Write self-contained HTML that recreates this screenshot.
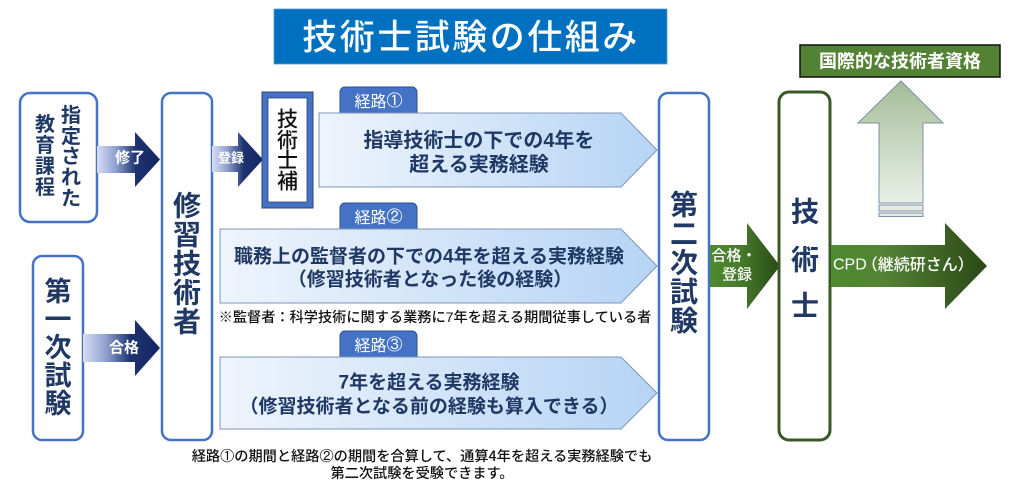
<!DOCTYPE html>
<html><head><meta charset="utf-8">
<style>
html,body{margin:0;padding:0;background:#fff;}
svg{display:block;}
text{font-family:"Liberation Sans","Noto Sans CJK JP",sans-serif;}
.cj{font-family:"Noto Sans CJK JP","Liberation Sans",sans-serif;}
.ci{font-family:"IPAGothic","WenQuanYi Zen Hei","Noto Sans CJK JP",sans-serif;}
.v{font-weight:bold;fill:#1f3864;text-anchor:middle;dominant-baseline:central;}
.r{font-weight:bold;fill:#1f3864;text-anchor:middle;dominant-baseline:central;}
.w{fill:#fff;text-anchor:middle;dominant-baseline:central;}
.n{fill:#111;text-anchor:middle;dominant-baseline:central;}
</style></head>
<body>
<svg width="1024" height="498" viewBox="0 0 1024 498" xmlns="http://www.w3.org/2000/svg">
<defs>
<linearGradient id="ba" x1="0" y1="0" x2="1" y2="0">
<stop offset="0" stop-color="#d6def3"/><stop offset="0.3" stop-color="#8fa0d0"/><stop offset="0.62" stop-color="#1d336f"/><stop offset="1" stop-color="#122563"/>
</linearGradient>
<linearGradient id="ga" x1="0" y1="0" x2="1" y2="0">
<stop offset="0" stop-color="#4f8a30"/><stop offset="0.45" stop-color="#467a2a"/><stop offset="1" stop-color="#2b4a17"/>
</linearGradient>
<linearGradient id="gc" x1="0" y1="0" x2="1" y2="0">
<stop offset="0" stop-color="#4e8a2f"/><stop offset="0.35" stop-color="#548235"/><stop offset="1" stop-color="#2a4816"/>
</linearGradient>
<linearGradient id="pg" x1="0" y1="0" x2="1" y2="0">
<stop offset="0" stop-color="#eef4fc"/><stop offset="1" stop-color="#b6d4f5"/>
</linearGradient>
<linearGradient id="ug" x1="0" y1="0" x2="0" y2="1">
<stop offset="0" stop-color="#a3bd97"/><stop offset="1" stop-color="#eaf0e8"/>
</linearGradient>
</defs>

<!-- Title -->
<rect x="274" y="9" width="393" height="55" fill="#0070c0" stroke="#5b9bd5" stroke-width="0.8"/>
<text x="471" y="38" class="w" font-size="35" font-weight="500" letter-spacing="2.5">技術士試験の仕組み</text>

<!-- 指定された教育課程 box -->
<rect x="20" y="93" width="77" height="129" rx="10" fill="#fff" stroke="#4472c4" stroke-width="2.5"/>
<g class="v" font-size="20">
<text x="71" y="116">指</text><text x="71" y="137">定</text><text x="71" y="157">さ</text><text x="71" y="178">れ</text><text x="71" y="199">た</text>
<text x="45" y="125">教</text><text x="45" y="146">育</text><text x="45" y="167">課</text><text x="45" y="188">程</text>
</g>

<!-- 第一次試験 box -->
<rect x="33" y="256" width="50" height="184" rx="9" fill="#fff" stroke="#4472c4" stroke-width="2.5"/>
<g class="v" font-size="27">
<text x="58" y="292">第</text><text x="58" y="320">一</text><text x="58" y="348">次</text><text x="58" y="376">試</text><text x="58" y="404">験</text>
</g>

<!-- 修了 arrow -->
<path d="M97,146 L135,146 L135,132 L160,159.5 L135,187 L135,173 L97,173 Z" fill="url(#ba)"/>
<text x="130" y="158" class="w" font-size="15" font-weight="bold">修了</text>

<!-- 合格 arrow -->
<path d="M83,334 L135,334 L135,320 L160,348 L135,376 L135,362 L83,362 Z" fill="url(#ba)"/>
<text x="124" y="348" class="w" font-size="15" font-weight="bold">合格</text>

<!-- 修習技術者 box -->
<rect x="162" y="93" width="50" height="347" rx="9" fill="#fff" stroke="#4472c4" stroke-width="2.5"/>
<g class="v" font-size="28">
<text x="187" y="206">修</text><text x="187" y="235">習</text><text x="187" y="264">技</text><text x="187" y="293">術</text><text x="187" y="322">者</text>
</g>

<!-- 登録 arrow -->
<path d="M212,146 L238,146 L238,132 L263,159.5 L238,187 L238,172 L212,172 Z" fill="url(#ba)"/>
<text x="231" y="158" class="w" font-size="13" font-weight="bold">登録</text>

<!-- 技術士補 -->
<rect x="262" y="92" width="51" height="116" fill="#4472c4" stroke="#2f4373" stroke-width="1"/>
<rect x="268" y="98" width="39" height="104" fill="#fff" stroke="#2f4373" stroke-width="0.8"/>
<g class="n" font-size="21" font-weight="500">
<text x="287.5" y="120">技</text><text x="287.5" y="141">術</text><text x="287.5" y="161">士</text><text x="287.5" y="182">補</text>
</g>

<!-- Route 1 -->
<rect x="340" y="87" width="77" height="32" rx="5" fill="#4472c4" stroke="#2f528f" stroke-width="1"/>
<text x="378.5" y="100" class="w cj" font-size="16">経路<tspan class="ci">①</tspan></text>
<path d="M319,113 L621,113 L657,150 L621,187 L319,187 Z" fill="url(#pg)" stroke="#7f94b5" stroke-width="1"/>
<text x="479" y="141" class="r" font-size="20">指導技術士の下での4年を</text>
<text x="479" y="165" class="r" font-size="20">超える実務経験</text>

<!-- Route 2 -->
<rect x="340" y="203" width="77" height="32" rx="5" fill="#4472c4" stroke="#2f528f" stroke-width="1"/>
<text x="378.5" y="216" class="w cj" font-size="16">経路<tspan class="ci">②</tspan></text>
<path d="M220,229 L621,229 L657,266 L621,303 L220,303 Z" fill="url(#pg)" stroke="#7f94b5" stroke-width="1"/>
<text x="429" y="257" class="r" font-size="19">職務上の監督者の下での4年を超える実務経験</text>
<text x="430" y="280" class="r" font-size="19">（修習技術者となった後の経験）</text>

<!-- note -->
<text x="435" y="318" class="n" font-size="14.2" font-weight="500">※監督者：科学技術に関する業務に7年を超える期間従事している者</text>

<!-- Route 3 -->
<rect x="340" y="331" width="77" height="32" rx="5" fill="#4472c4" stroke="#2f528f" stroke-width="1"/>
<text x="378.5" y="344" class="w cj" font-size="16">経路<tspan class="ci">③</tspan></text>
<path d="M220,357 L621,357 L657,393 L621,429 L220,429 Z" fill="url(#pg)" stroke="#7f94b5" stroke-width="1"/>
<text x="429" y="383" class="r" font-size="19">7年を超える実務経験</text>
<text x="429" y="407" class="r" font-size="19">（修習技術者となる前の経験も算入できる）</text>

<!-- bottom note -->
<text x="422" y="456" class="n cj" font-size="14.2" font-weight="500">経路<tspan class="ci">①</tspan>の期間と経路<tspan class="ci">②</tspan>の期間を合算して、通算4年を超える実務経験でも</text>
<text x="422" y="473" class="n cj" font-size="14.2" font-weight="500">第二次試験を受験できます。</text>

<!-- 第二次試験 box -->
<rect x="659" y="93" width="50" height="347" rx="9" fill="#fff" stroke="#4472c4" stroke-width="2.5"/>
<g class="v" font-size="28">
<text x="684" y="205">第</text><text x="684" y="234">二</text><text x="684" y="263">次</text><text x="684" y="292">試</text><text x="684" y="321">験</text>
</g>

<!-- 合格・登録 arrow -->
<path d="M710,245 L747,245 L747,223 L780,266 L747,309 L747,287 L710,287 Z" fill="url(#ga)"/>
<text x="734" y="256" class="w" font-size="15" font-weight="500">合格・</text>
<text x="737" y="275" class="w" font-size="15" font-weight="500">登録</text>

<!-- 技術士 box -->
<rect x="779" y="92" width="51" height="348" rx="10" fill="#fff" stroke="#3a5a25" stroke-width="3"/>
<g class="v" font-size="28">
<text x="805" y="212">技</text><text x="805" y="260">術</text><text x="805" y="306">士</text>
</g>

<!-- CPD arrow -->
<path d="M831,245 L945,245 L945,223 L987,266 L945,309 L945,287 L831,287 Z" fill="url(#gc)"/>
<text x="833" y="265" fill="#fff" dominant-baseline="central" font-size="16" font-weight="500">CPD<tspan dx="-5">（継続研さん）</tspan></text>

<!-- up arrow -->
<path d="M879,203 L879,123 L858,123 L901,81 L943,123 L923,123 L923,203 Z" fill="url(#ug)" stroke="#7e8fa8" stroke-width="1"/>
<rect x="879" y="205" width="44" height="6" fill="#e6ece4" stroke="#7e8fa8" stroke-width="1"/>
<rect x="879" y="213" width="44" height="3.5" fill="#e6ece4" stroke="#7e8fa8" stroke-width="1"/>

<!-- 国際的な技術者資格 -->
<rect x="800" y="45" width="200" height="32" fill="#548235" stroke="#111" stroke-width="1.5"/>
<text x="900" y="61.5" class="w" font-size="18" font-weight="bold">国際的な技術者資格</text>
</svg>
</body></html>
